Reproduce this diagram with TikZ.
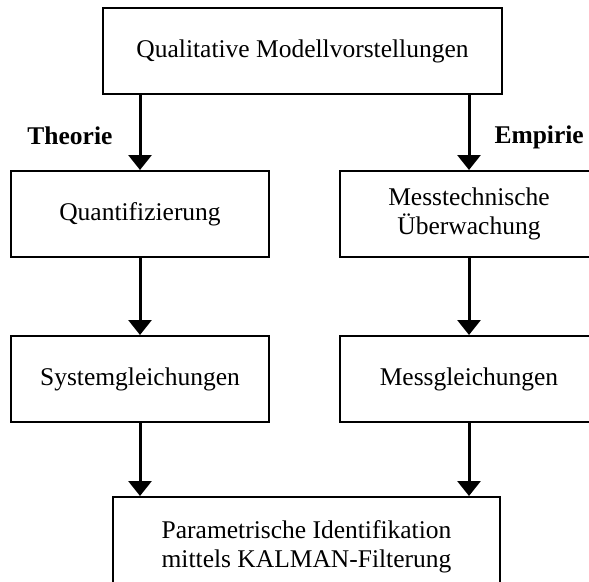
\documentclass[tikz,border=0pt]{standalone}
\usepackage{fontspec}
\setmainfont{Liberation Serif}
\usepackage{tikz}
\usetikzlibrary{arrows.meta, positioning, calc}

\begin{document}
\begin{tikzpicture}[x=1pt,y=-1pt,node distance=77pt,
                    box node/.style={draw,line width=2pt,minimum height=86pt,minimum width=258pt,align=center,
                                     font=\fontsize{25.5pt}{29pt}\selectfont},
                    side label/.style={font=\fontsize{25.5pt}{29pt}\selectfont\bfseries},
                    arrow line/.style={line width=3pt,-{Triangle[width=23pt,length=15pt]}}]

  \useasboundingbox (0,0) rectangle (589,581);
  \clip (0,0) rectangle (589,581);

  \node[box node,minimum width=399pt] (qual) at (302.5,51) {Qualitative Modellvorstellungen};
  \node[box node] (quant) at (140,214) {Quantifizierung};
  \node[box node] (mess) [right=69pt of quant] {Messtechnische\\Überwachung};
  \node[box node] (sysgl) [below=77pt of quant] {Systemgleichungen};
  \node[box node] (messgl) [below=77pt of mess] {Messgleichungen};
  \node[box node,minimum width=387pt,minimum height=100pt] (param) at (306.5,547)
       {Parametrische Identifikation\\mittels KALMAN-Filterung};

  \draw[arrow line] (qual.south -| quant.north) -- (quant.north);
  \draw[arrow line] (qual.south -| mess.north) -- (mess.north);
  \draw[arrow line] (quant) -- (sysgl);
  \draw[arrow line] (mess) -- (messgl);
  \draw[arrow line] (sysgl.south) -- (sysgl.south |- param.north);
  \draw[arrow line] (messgl.south) -- (messgl.south |- param.north);

  % labels beside the two upper arrows
  \coordinate (tm) at ($(qual.south -| quant.north)!0.5!(quant.north)$);
  \coordinate (em) at ($(qual.south -| mess.north)!0.5!(mess.north)$);
  \node[side label,yshift=-3pt] (theorie) [left=24pt of tm] {Theorie};
  \node[side label,yshift=-5pt] (empirie) [right=22pt of em] {Empirie};

\end{tikzpicture}
\end{document}
